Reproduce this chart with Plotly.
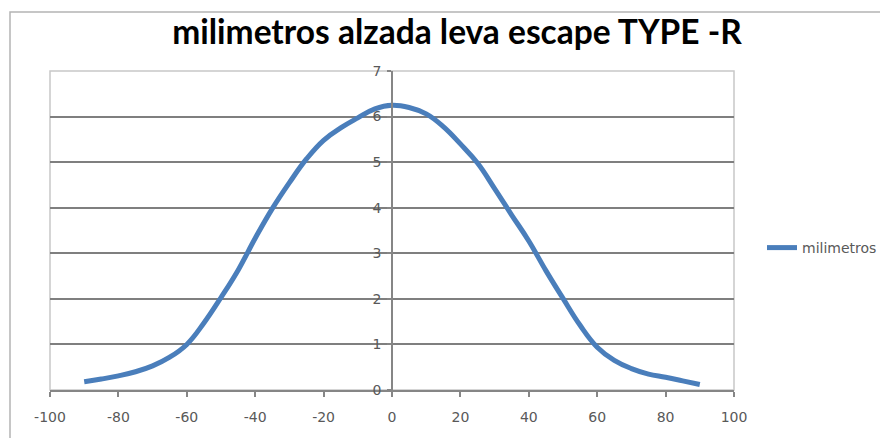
import plotly.graph_objects as go

grados = [-90, -85, -80, -75, -70, -65, -60, -55, -50, -45, -40, -35, -30, -25, -20, -15, -10, -5, 0,
          5, 10, 15, 20, 25, 30, 35, 40, 45, 50, 55, 60, 65, 70, 75, 80, 85, 90]
milimetros = [0.18, 0.24, 0.31, 0.40, 0.53, 0.72, 1.00, 1.47, 2.03, 2.63, 3.33, 3.98, 4.55, 5.07, 5.48, 5.75, 5.97, 6.17, 6.25,
              6.20, 6.06, 5.78, 5.40, 4.98, 4.42, 3.84, 3.27, 2.62, 2.01, 1.42, 0.94, 0.65, 0.47, 0.35, 0.28, 0.20, 0.12]

x_ticks = [-100, -80, -60, -40, -20, 0, 20, 40, 60, 80, 100]
y_ticks = [0, 1, 2, 3, 4, 5, 6, 7]

W, H = 888, 438
OFF = 8                      # default page body margin
L, T = 50 - OFF, 71 - OFF
PW, PH = 684, 319
R, B = W - L - PW, H - T - PH

def px(xr):   # reference-pixel x -> paper fraction
    return (xr - 50) / PW

def py(yr):   # reference-pixel y -> paper fraction
    return (390 - yr) / PH

fig = go.Figure()
fig.add_trace(go.Scatter(
    x=grados, y=milimetros, mode="lines", name="milimetros",
    line=dict(color="#4a7ebb", width=5, shape="spline", smoothing=1.2),
))

tickfont = dict(family="DejaVu Sans, sans-serif", size=14, color="#595959")

fig.update_layout(
    width=W, height=H,
    margin=dict(l=L, r=R, t=T, b=B),
    paper_bgcolor="white", plot_bgcolor="white",
    title=dict(text="<b>milimetros alzada leva escape TYPE -R</b>",
               x=px(457), xref="paper", xanchor="center",
               y=1 - (32 - OFF) / H, yanchor="middle",
               font=dict(family="Lato, Noto Sans, sans-serif", size=33.5, color="#000000")),
    showlegend=True,
    legend=dict(x=px(762), y=py(248), xanchor="left", yanchor="middle",
                font=dict(family="DejaVu Sans, sans-serif", size=14, color="#595959"),
                bgcolor="rgba(0,0,0,0)", itemwidth=30),
    xaxis=dict(range=[-100, 100], tickvals=x_ticks, ticktext=[str(v) for v in x_ticks],
               showgrid=False, zeroline=False, showline=True, linecolor="#868686", linewidth=1.5,
               ticks="outside", ticklen=5, tickcolor="#868686", tickwidth=1.5,
               ticklabelstandoff=8, tickfont=tickfont, fixedrange=True),
    yaxis=dict(range=[0, 7], tickvals=y_ticks, ticktext=[str(v) for v in y_ticks],
               anchor="free", position=0.5,
               showgrid=True, gridcolor="#7f7f7f", gridwidth=1.5,
               zeroline=False, showline=True, linecolor="#868686", linewidth=1.5,
               ticks="outside", ticklen=4, tickcolor="#868686", tickwidth=1.5,
               ticklabelstandoff=3, tickfont=tickfont, fixedrange=True),
    shapes=[
        dict(type="rect", xref="paper", yref="paper", x0=0, x1=1, y0=0, y1=1,
             line=dict(color="#c8c8c8", width=1.5), layer="below"),
        dict(type="rect", xref="paper", yref="paper",
             x0=px(10), x1=px(W + 30), y0=py(H + 30), y1=py(12),
             line=dict(color="#b4b4b4", width=1.5), layer="below"),
    ],
)

fig.write_html("out.html")
